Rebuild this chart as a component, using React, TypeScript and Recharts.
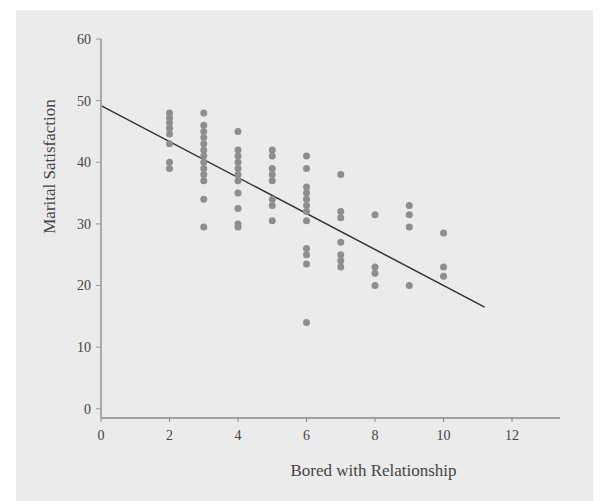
import {ComposedChart, Scatter, XAxis, YAxis, ReferenceLine, Label} from "recharts"

const boredLevels = [2, 3, 4, 5, 6, 7, 8, 9, 10]

const sat2 = [48, 47.2, 46.4, 45.5, 44.6, 43, 40, 39]
const sat3 = [48, 46, 45, 44, 43, 42, 41, 40, 39, 38, 37, 34, 29.5]
const sat4 = [45, 42, 41, 40, 39, 38, 37, 35, 32.5, 30, 29.5]
const sat5 = [42, 41, 39, 38, 37, 34, 33, 30.5]
const sat6 = [41, 39, 36, 35, 34, 33, 32, 30.5, 26, 25, 23.5, 14]
const sat7 = [38, 32, 31, 27, 25, 24, 23]
const sat8 = [31.5, 23, 22, 20]
const sat9 = [33, 31.5, 29.5, 20]
const sat10 = [28.5, 23, 21.5]

const fitLine = [
    {x: 0, y: 49.2},
    {x: 11.2, y: 16.5},
]

const xTicks = [0, 2, 4, 6, 8, 10, 12]
const yTicks = [0, 10, 20, 30, 40, 50, 60]

const columns = [sat2, sat3, sat4, sat5, sat6, sat7, sat8, sat9, sat10]
const points = columns.flatMap((col, i) => col.map(v => ({x: boredLevels[i], y: v})))

const tickStyle = {fill: "#444", fontSize: 14, fontFamily: "Liberation Serif"}
const labelStyle = {fill: "#444", fontSize: 17, fontFamily: "Liberation Serif"}

// small round dots, the default scatter symbol is too big here
const Dot = (props: any) => <circle cx={props.cx} cy={props.cy} r={3.5} fill="#8e8e8e" />

export default function App() {
    return (
        <div style={{position: "absolute", left: 0, top: 0, width: 603, height: 501, background: "#fff"}}>
            <div style={{position: "absolute", left: 16, top: 10, width: 577, height: 491, background: "#ebebeb"}} />
            <div style={{position: "absolute", left: 0, top: 0}}>
                <ComposedChart width={603} height={501} margin={{top: 39, right: 43, left: 0, bottom: 0}}>
                    <XAxis
                        type="number"
                        dataKey="x"
                        domain={[0, 13.4]}
                        ticks={xTicks}
                        height={83}
                        tick={tickStyle}
                        tickSize={4}
                        tickMargin={8}
                        axisLine={{stroke: "#888", strokeWidth: 1.5}}
                        tickLine={{stroke: "#888"}}
                    >
                        <Label
                            value="Bored with Relationship"
                            position="insideTop"
                            offset={46}
                            dx={43}
                            style={labelStyle}
                        />
                    </XAxis>
                    <YAxis
                        type="number"
                        dataKey="y"
                        domain={[-1.5, 60]}
                        ticks={yTicks}
                        width={101}
                        tick={tickStyle}
                        tickSize={5}
                        tickMargin={5}
                        axisLine={{stroke: "#aaa", strokeWidth: 2}}
                        tickLine={{stroke: "#999"}}
                    >
                        <Label
                            value="Marital Satisfaction"
                            angle={-90}
                            position="insideLeft"
                            offset={49}
                            dy={-62}
                            style={{...labelStyle, textAnchor: "middle"}}
                        />
                    </YAxis>
                    <Scatter data={points} shape={Dot} isAnimationActive={false} />
                    <ReferenceLine segment={fitLine} stroke="#333" strokeWidth={1.5} ifOverflow="visible" />
                </ComposedChart>
            </div>
        </div>
    )
}
